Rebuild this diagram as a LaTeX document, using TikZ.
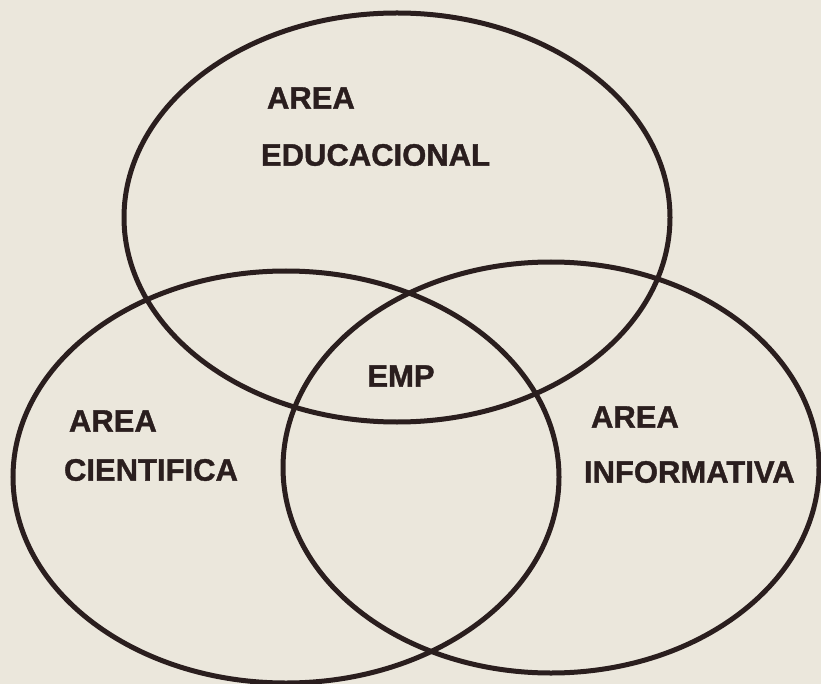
\documentclass[tikz,border=0pt]{standalone}
\usepackage{fontspec}
\setmainfont{Liberation Sans}
\newfontfamily\areafont{Liberation Sans Bold}[FakeBold=1.2]
\definecolor{paperBg}{RGB}{235,231,220}
\definecolor{inkLine}{RGB}{42,30,30}
\tikzset{
ringstyle/.style={draw=inkLine, line width=5pt},
labelstyle/.style={anchor=west, inner sep=0pt, outer sep=0pt, text=inkLine, font=\areafont\fontsize{31}{36}\selectfont}
}
\begin{document}
\begin{tikzpicture}[x=1pt, y=-1pt]
\useasboundingbox [fill=paperBg] (0, 0) rectangle (821, 684);

\coordinate (edu) at (397, 217.5);
\coordinate (cie) at (286, 477);
\coordinate (inf) at (551, 467.5);

\draw [ringstyle] (edu) ellipse [x radius=273, y radius=204.5];
\draw [ringstyle] (cie) ellipse [x radius=273, y radius=206];
\draw [ringstyle] (inf) ellipse [x radius=268, y radius=205.5];

\node [labelstyle] (eduA) at (267, 98) {AREA};
\node [labelstyle] (eduB) at (261, 155) {EDUCACIONAL};
\node [labelstyle, anchor=center] (emp) at (401, 376) {EMP};
\node [labelstyle] (cieA) at (69, 421) {AREA};
\node [labelstyle] (cieB) at (64, 470) {CIENTIFICA};
\node [labelstyle] (infA) at (591, 417) {AREA};
\node [labelstyle] (infB) at (584, 472) {INFORMATIVA};
\end{tikzpicture}
\end{document}
